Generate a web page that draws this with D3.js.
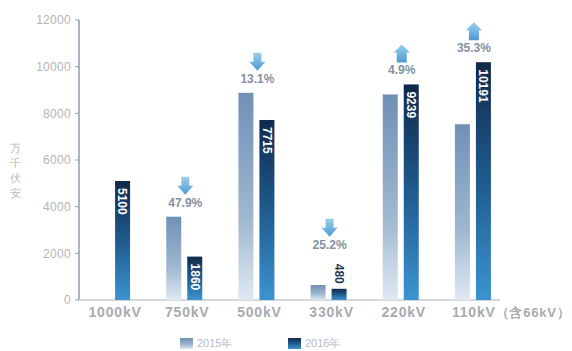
<!DOCTYPE html>
<html>
<head>
<meta charset="utf-8">
<script src="https://cdn.jsdelivr.net/npm/d3@7/dist/d3.min.js"></script>
<style>
  body { margin: 0; background: #fff; }
  svg { display: block; font-family: "Liberation Sans", "DejaVu Sans", sans-serif; }
</style>
</head>
<body>
<svg id="chart" width="572" height="351"></svg>
<script>
// chart data
var categories = ["1000kV", "750kV", "500kV", "330kV", "220kV", "110kV"];
var categoryNotes = ["", "", "", "", "", "（含66kV）"];
var values2015 = [null, 3570, 8878, 642, 8808, 7532];
var values2016 = [5100, 1860, 7715, 480, 9239, 10191];
var changeLabels = [null, "47.9%", "13.1%", "25.2%", "4.9%", "35.3%"];
var changeDirs = [null, "down", "down", "down", "up", "up"];
var yTicks = [0, 2000, 4000, 6000, 8000, 10000, 12000];
var seriesNames = ["2015年", "2016年"];
var yTitle = "万千伏安";

var svg = d3.select("#chart");
var defs = svg.append("defs");

// gradients for the two series and the arrows
function vGrad(id, stops) {
    var g = defs.append("linearGradient").attr("id", id)
        .attr("x1", 0).attr("y1", 0).attr("x2", 0).attr("y2", 1);
    stops.forEach(function (s) {
        g.append("stop").attr("offset", s[0]).attr("stop-color", s[1]);
    });
}
vGrad("g2015", [[0, "#6f90b6"], [0.6, "#9fb7d0"], [1, "#dfe9f3"]]);
vGrad("g2016", [[0, "#10294a"], [0.5, "#1f5b8e"], [1, "#3c94d0"]]);
vGrad("gArrow", [[0, "#9fcdec"], [1, "#4c9bd3"]]);

var x = d3.scaleBand().domain(categories).range([76, 509]);
var y = d3.scaleLinear().domain([0, 12000]).range([300, 20]);
var barW = 15;

// y axis
var axis = svg.append("g");
axis.append("line")
    .attr("x1", 79).attr("x2", 79).attr("y1", y(12000)).attr("y2", y(0))
    .attr("stroke", "#8d9db3").attr("stroke-width", 1.5);
axis.append("line")
    .attr("x1", 79).attr("x2", 500).attr("y1", y(0)).attr("y2", y(0))
    .attr("stroke", "#c5ccd6").attr("stroke-width", 1.5);
yTicks.forEach(function (t) {
    axis.append("line")
        .attr("x1", 75).attr("x2", 79).attr("y1", y(t)).attr("y2", y(t))
        .attr("stroke", "#8d9db3");
    axis.append("text")
        .attr("x", 71).attr("y", y(t)).attr("dy", "0.35em")
        .attr("text-anchor", "end")
        .attr("font-size", 12).attr("letter-spacing", 0.3).attr("fill", "#b4b4b4")
        .text(t);
});
// y title (vertical)
var yt = svg.append("text")
    .attr("x", 15).attr("y", 152)
    .attr("font-size", 11).attr("fill", "#b8b8b8")
    .attr("text-anchor", "middle");
yTitle.split("").forEach(function (ch, i) {
    yt.append("tspan").attr("x", 15).attr("dy", i === 0 ? 0 : 15).text(ch);
});

categories.forEach(function (c, i) {
    var cx = x(c) + x.bandwidth() / 2;
    var v15 = values2015[i], v16 = values2016[i];
    if (v15 != null) {
        svg.append("rect")
            .attr("x", cx - 18).attr("width", barW)
            .attr("y", y(v15)).attr("height", y(0) - y(v15))
            .attr("fill", "url(#g2015)");
    }
    svg.append("rect")
        .attr("x", cx + 3).attr("width", barW)
        .attr("y", y(v16)).attr("height", y(0) - y(v16))
        .attr("fill", "url(#g2016)");

    // value label of the 2016 bar, rotated
    var lx = cx + 3 + barW / 2;
    var labelLen = String(v16).length * 7 + 4;
    var inside = (y(0) - y(v16)) > labelLen + 8;
    var top = Math.min(y(v16), v15 != null ? y(v15) : 999);
    var ly;
    if (inside) {
        ly = y(v16) + 7;
        svg.append("text")
            .attr("transform", "translate(" + lx + "," + ly + ") rotate(90)")
            .attr("dy", "0.35em").attr("text-anchor", "start")
            .attr("font-size", 12).attr("font-weight", "bold").attr("fill", "#fff")
            .text(v16);
    } else {
        ly = y(v16) - 5;
        svg.append("text")
            .attr("transform", "translate(" + lx + "," + ly + ") rotate(90)")
            .attr("dy", "0.35em").attr("text-anchor", "end")
            .attr("font-size", 12).attr("font-weight", "bold").attr("fill", "#1d3757")
            .text(v16);
        top = Math.min(top, ly - labelLen);
    }

    // change arrow + percentage
    if (changeLabels[i]) {
        var base = top - 10;
        var tx = cx + 1;
        svg.append("text")
            .attr("x", tx).attr("y", base)
            .attr("text-anchor", "middle")
            .attr("font-size", 12).attr("font-weight", "bold").attr("fill", "#8391a1")
            .text(changeLabels[i]);
        var b = base - 12, h = 18, t0 = b - h;
        var p;
        if (changeDirs[i] === "down") {
            p = [[tx - 4, t0], [tx + 4, t0], [tx + 4, t0 + 9], [tx + 8, t0 + 9],
                 [tx, b], [tx - 8, t0 + 9], [tx - 4, t0 + 9]];
        } else {
            p = [[tx, t0], [tx + 8, t0 + 8], [tx + 5, t0 + 8], [tx + 5, b],
                 [tx - 5, b], [tx - 5, t0 + 8], [tx - 8, t0 + 8]];
        }
        svg.append("path")
            .attr("d", d3.line()(p) + "Z")
            .attr("fill", "url(#gArrow)");
    }

    // category label
    var cl = svg.append("text")
        .attr("y", 317)
        .attr("font-size", 14).attr("font-weight", "bold").attr("letter-spacing", 0.8)
        .attr("fill", "#a7abb0");
    if (categoryNotes[i]) {
        cl.attr("x", cx - 21).attr("text-anchor", "start");
        cl.append("tspan").text(c);
        cl.append("tspan").attr("font-size", 13).text(categoryNotes[i]);
    } else {
        cl.attr("x", cx + 3).attr("text-anchor", "middle").text(c);
    }
});

// legend
var legend = svg.append("g");
[[180, "url(#g2015)"], [288, "url(#g2016)"]].forEach(function (d, i) {
    legend.append("rect")
        .attr("x", d[0]).attr("y", 338).attr("width", 13).attr("height", 11)
        .attr("fill", d[1]);
    legend.append("text")
        .attr("x", d[0] + 17).attr("y", 347)
        .attr("font-size", 11).attr("fill", "#b8bcc2")
        .text(seriesNames[i]);
});
</script>
</body>
</html>
